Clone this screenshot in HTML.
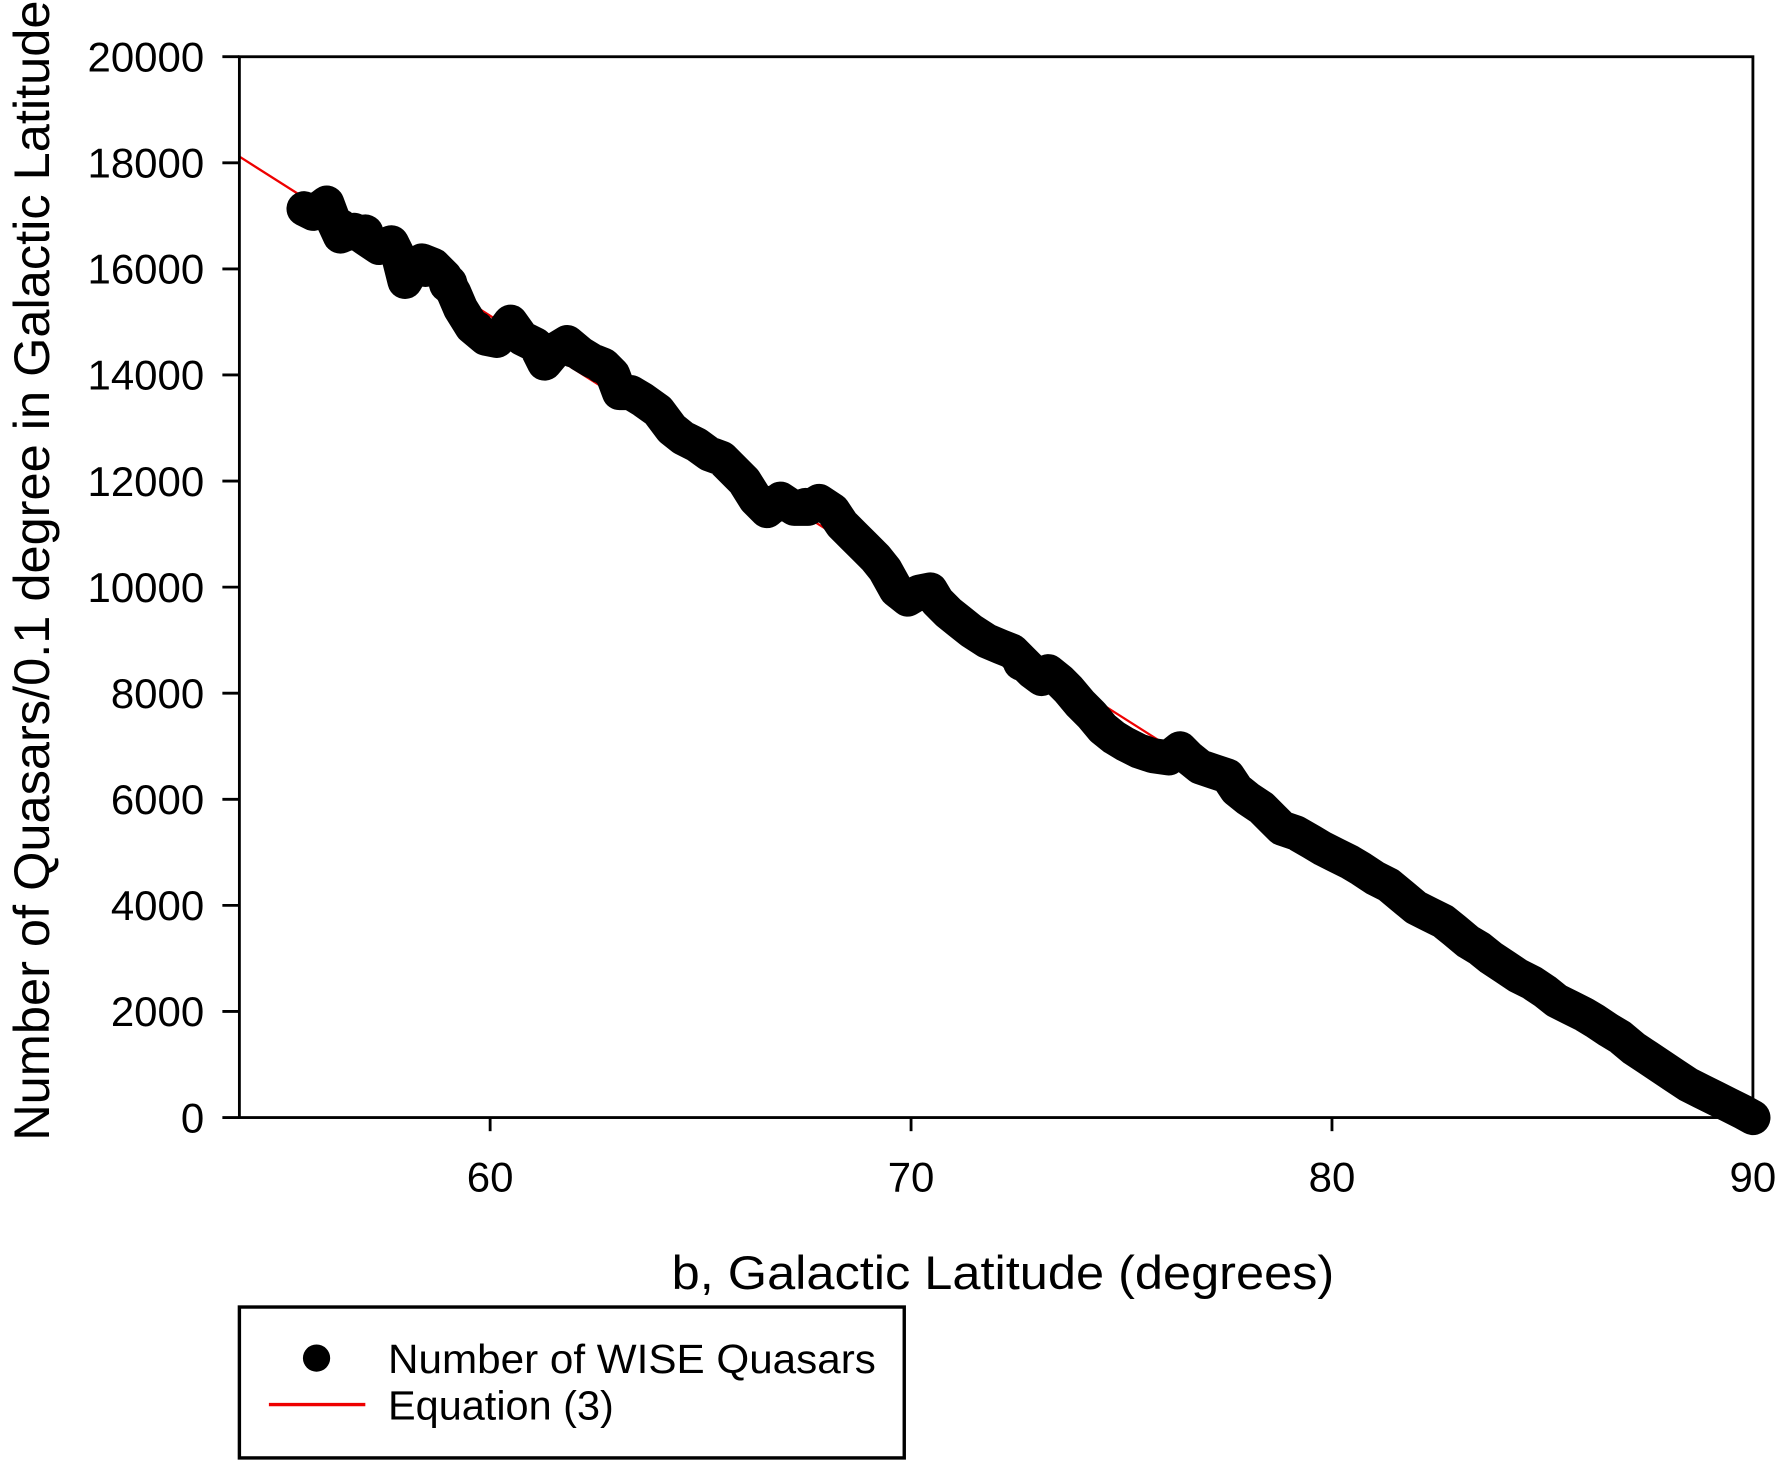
<!DOCTYPE html>
<html><head><meta charset="utf-8"><style>
html,body{margin:0;padding:0;background:#fff;}
svg{display:block;}
text{font-family:"Liberation Sans",Arial,sans-serif;fill:#000;}
</style></head><body>
<svg width="1779" height="1472" viewBox="0 0 1568 1297.4" preserveAspectRatio="none" xmlns="http://www.w3.org/2000/svg">
<rect width="1568" height="1298" fill="#fff"/>
<line x1="211" y1="138" x2="1545" y2="985" stroke="#e00" stroke-width="2"/>
<polyline fill="none" stroke="#000" stroke-width="31" stroke-linejoin="round" stroke-linecap="round"
points="268,184 276,188 288,179 294,195 300,208 312,203 322,210 334,218 345,214 352,228 357,248 364,236 372,230 382,234 392,244 400,258 406,272 416,288 428,298 438,300 450,284 460,298 472,304 480,320 490,308 500,302 512,312 522,318 532,322 540,330 546,346 556,346 566,352 580,362 592,378 602,386 614,392 625,400 636,404 646,414 656,424 666,440 676,450 688,440 700,448 712,448 722,442 734,450 742,462 752,472 762,482 772,492 780,502 790,520 800,528 810,522 820,520 826,530 836,540 846,548 856,556 870,565 882,570 892,574 900,582 910,592 918,598 924,592 934,600 942,608 952,620 962,630 972,642 982,650 992,656 1004,662 1016,666 1030,668 1040,660 1048,668 1058,676 1070,680 1082,684 1090,696 1100,704 1112,712 1122,722 1130,730 1142,734 1156,742 1166,748 1178,754 1190,760 1200,766 1212,774 1224,780 1236,790 1248,800 1260,806 1272,812 1282,820 1294,830 1304,836 1314,844 1326,852 1338,860 1350,866 1362,874 1372,882 1384,888 1396,894 1406,900 1418,908 1428,914 1440,924 1452,932 1464,940 1476,948 1488,956 1500,962 1512,968 1524,974 1536,980 1545,985"/>
<g fill="#000">
<circle cx="300" cy="200" r="16"/><circle cx="322" cy="205" r="16"/><circle cx="375" cy="236" r="17"/><circle cx="395" cy="250" r="17"/>
<circle cx="420" cy="290" r="16"/><circle cx="505" cy="308" r="16"/><circle cx="530" cy="322" r="16"/>
<circle cx="680" cy="444" r="16"/><circle cx="710" cy="446" r="16"/><circle cx="900" cy="584" r="16"/>
</g>
<rect x="211" y="50" width="1334" height="935" fill="none" stroke="#000" stroke-width="2.5"/>
<g stroke="#000" stroke-width="2.5">
<line x1="196" y1="50" x2="211" y2="50"/><line x1="196" y1="143.5" x2="211" y2="143.5"/>
<line x1="196" y1="237" x2="211" y2="237"/><line x1="196" y1="330.5" x2="211" y2="330.5"/>
<line x1="196" y1="424" x2="211" y2="424"/><line x1="196" y1="517.5" x2="211" y2="517.5"/>
<line x1="196" y1="611" x2="211" y2="611"/><line x1="196" y1="704.5" x2="211" y2="704.5"/>
<line x1="196" y1="798" x2="211" y2="798"/><line x1="196" y1="891.5" x2="211" y2="891.5"/>
<line x1="196" y1="985" x2="211" y2="985"/>
<line x1="432" y1="985" x2="432" y2="997"/><line x1="803" y1="985" x2="803" y2="997"/>
<line x1="1174" y1="985" x2="1174" y2="997"/><line x1="1545" y1="985" x2="1545" y2="997"/>
</g>
<g font-size="37" text-anchor="end">
<text x="180" y="63">20000</text><text x="180" y="156.5">18000</text>
<text x="180" y="250">16000</text><text x="180" y="343.5">14000</text>
<text x="180" y="437">12000</text><text x="180" y="530.5">10000</text>
<text x="180" y="624">8000</text><text x="180" y="717.5">6000</text>
<text x="180" y="811">4000</text><text x="180" y="904.5">2000</text>
<text x="180" y="998">0</text>
</g>
<g font-size="37" text-anchor="middle">
<text x="432" y="1050">60</text><text x="803" y="1050">70</text>
<text x="1174" y="1050">80</text><text x="1545" y="1050">90</text>
</g>
<text x="884" y="1136" font-size="42" text-anchor="middle" textLength="584" lengthAdjust="spacingAndGlyphs">b, Galactic Latitude (degrees)</text>
<text transform="translate(43,503) rotate(-90)" font-size="44" text-anchor="middle" textLength="1005" lengthAdjust="spacingAndGlyphs">Number of Quasars/0.1 degree in Galactic Latitude</text>
<rect x="211" y="1152" width="586" height="133" fill="#fff" stroke="#000" stroke-width="3"/>
<circle cx="279" cy="1197" r="12" fill="#000"/>
<line x1="237" y1="1238" x2="322" y2="1238" stroke="#e00" stroke-width="3"/>
<text x="342" y="1210" font-size="36" textLength="430" lengthAdjust="spacingAndGlyphs">Number of WISE Quasars</text>
<text x="342" y="1251" font-size="36" textLength="199" lengthAdjust="spacingAndGlyphs">Equation (3)</text>
</svg>
</body></html>
